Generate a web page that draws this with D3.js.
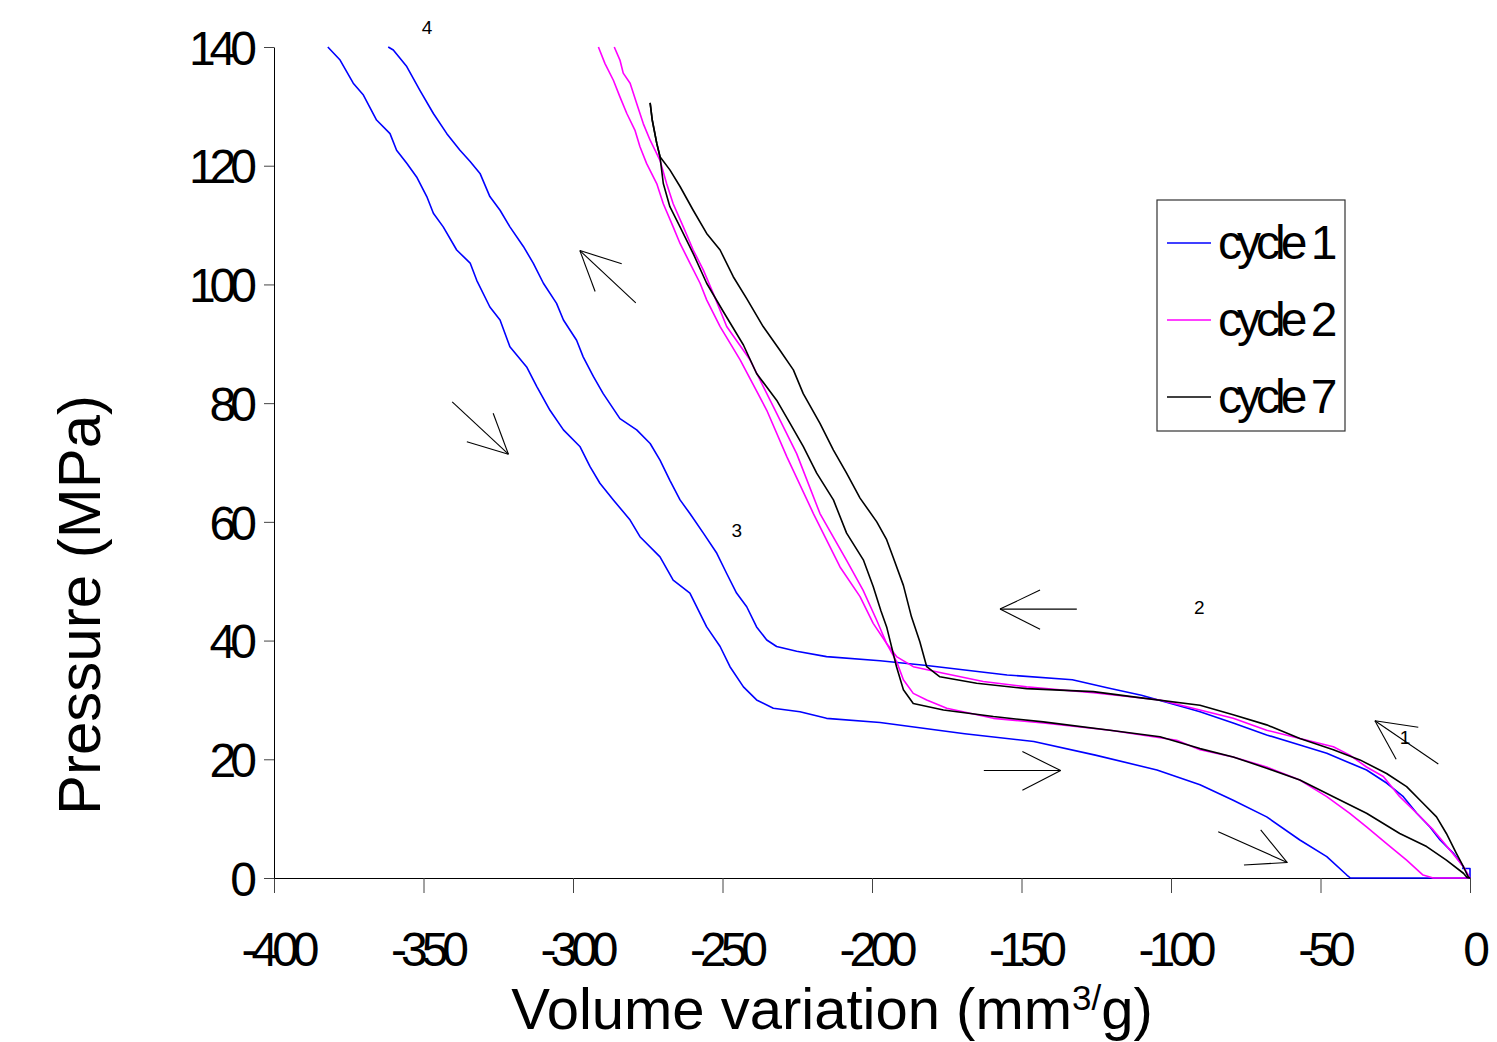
<!DOCTYPE html>
<html>
<head>
<meta charset="utf-8">
<script src="https://cdn.jsdelivr.net/npm/d3@7"></script>
<style>
  body { margin: 0; background: #fff; }
  svg { display: block; }
  .tick text { font-family: "Liberation Sans", Arial, sans-serif; font-size: 48px; letter-spacing: -6px; fill: #000; }
  .tick line { stroke: #444; }
  .domain { stroke: #000; }
</style>
</head>
<body>
<div class="chart"></div>
<script>
// cycle 1 (blue) - intrusion branch, from origin up
const cycle1Up = [[0,0],[0,1.6],[-2.4,1.6],[-2.2,1.9],[-5.6,4.2],[-10,6.4],[-13.4,8.6],[-17.8,10.9],[-22.3,13.7],[-27.9,16.0],[-34.6,18.2],[-41.2,19.6],[-47.9,21.0],[-56.9,22.4],[-68,24.1],[-79.2,26.1],[-90.3,28.0],[-94.4,28.6],[-109.9,30.8],[-121,32.0],[-133,33.4],[-154.8,34.2],[-181.7,35.8],[-197.3,36.6],[-215.2,37.3],[-225.2,38.2],[-231.9,39.0],[-235.2,40.1],[-238.6,42.3],[-241.9,45.7],[-245.3,48.0],[-248.6,51.3],[-251.9,54.7],[-256.4,58.1],[-260.9,61.4],[-264.2,63.7],[-267.6,67.0],[-270.9,70.4],[-274.2,73.2],[-278.7,75.5],[-284.3,77.4],[-289.9,81.6],[-293.2,84.5],[-296.6,87.8],[-298.8,90.6],[-303.2,94.0],[-305.5,96.8],[-309.9,100.2],[-313.3,103.6],[-316.6,106.4],[-321.1,109.7],[-324.4,112.5],[-327.8,114.8],[-331.1,118.7],[-334.4,120.7],[-337.8,122.6],[-342.2,125.4],[-346.7,128.8],[-351.2,132.7],[-355.6,136.7],[-360.1,139.5],[-361.8,140]];
// cycle 1 - extrusion branch, from top back to origin
const cycle1Down = [[-382,140],[-377.9,137.8],[-373.5,133.9],[-370.1,131.9],[-365.7,127.7],[-361.2,125.4],[-359,122.6],[-355.6,120.4],[-352.3,118.1],[-348.9,114.8],[-346.7,112],[-343.4,109.7],[-338.9,105.8],[-334.4,103.6],[-332.2,100.7],[-327.8,96.2],[-324.4,94.0],[-321.1,89.5],[-315.5,86.1],[-312.1,82.8],[-307.7,78.8],[-303.2,75.5],[-297.7,72.7],[-294.3,69.3],[-291,66.5],[-286.5,63.7],[-280.9,60.3],[-277.6,57.5],[-270.9,54.1],[-266.5,50.2],[-260.9,48.0],[-255.3,42.3],[-250.8,39.0],[-247.5,35.6],[-243.0,32.2],[-238.6,30.0],[-233,28.6],[-224.1,28.0],[-215.2,26.9],[-197.3,26.2],[-169,24.3],[-145.9,23.0],[-125.3,20.7],[-104.7,18.2],[-90.3,15.7],[-79.2,13.1],[-68,10.3],[-56.9,6.4],[-47.9,3.6],[-41.2,0.5],[-40,0],[0,0]];

// cycle 2 (magenta)
const cycle2Up = [[0,0],[-2.2,1.9],[-6.7,4.7],[-12.3,8.1],[-17.8,10.9],[-23.5,13.7],[-29,17.1],[-34.6,18.7],[-40.2,20.7],[-45.7,22.1],[-56.9,23.5],[-68,24.9],[-79.2,26.9],[-90.3,28.3],[-103.7,30],[-126,31.2],[-148.3,32.2],[-162.8,33.1],[-176.1,34.5],[-186.2,35.6],[-191.8,37.3],[-195.1,39.5],[-198.5,43.5],[-203,48.5],[-208.5,53.5],[-217.4,61.4],[-225.2,71.5],[-233,79.4],[-240.8,87.3],[-248.6,92.9],[-253.1,98.5],[-256.4,102.4],[-259.8,105.8],[-263.1,109.7],[-266.5,113.6],[-268.7,117],[-270.9,120.9],[-274.2,124.3],[-276.5,127.1],[-278.7,130.5],[-280.9,133.9],[-283.2,135.6],[-284.3,137.8],[-286.2,140]];
const cycle2Down = [[-291.5,140],[-289.3,137.2],[-286.5,134.4],[-284.3,131.6],[-282,128.8],[-279.3,126],[-277.6,123.2],[-275.4,120.4],[-272,117],[-269.8,113.6],[-266.5,109.7],[-264.2,106.9],[-260.9,103.6],[-257.5,100.2],[-255.3,97.4],[-250.8,92.9],[-244.1,87.3],[-235.2,78.8],[-228.5,71.0],[-219.6,61.4],[-210.7,52.4],[-204,47.4],[-199.6,42.9],[-195.1,39.5],[-191.8,36.5],[-189.5,33.4],[-186.2,31.1],[-181.7,30],[-175,28.6],[-159.4,26.9],[-142.7,26.1],[-120.4,24.9],[-98.1,23.2],[-90.3,21.6],[-79.2,20.4],[-68,18.7],[-56.9,16.5],[-47.9,13.7],[-40.2,10.9],[-34.6,8.6],[-27.9,5.8],[-21.2,3.0],[-15.7,0.5],[-12.3,0],[0,0]];

// cycle 7 (black)
const cycle7Up = [[0,0],[-0.6,0.2],[-2.2,1.9],[-4.6,4.2],[-7.9,7.5],[-11.2,10.3],[-15.7,12.6],[-21.2,15.4],[-27.9,17.6],[-36.8,19.9],[-45.7,21.6],[-56.9,23.5],[-68,25.8],[-79.2,27.5],[-90.3,29.1],[-109.3,30.3],[-126,31.4],[-148.3,31.9],[-165,32.8],[-177.3,33.9],[-181.7,35.6],[-184,39.8],[-186.8,44],[-189.5,49.3],[-192.9,54],[-195.1,57],[-198.4,60],[-204,64],[-208.5,68.2],[-212.9,72.1],[-217.4,76.6],[-223,81.6],[-226.3,85.6],[-230.8,88.9],[-236.4,92.9],[-241.9,97.6],[-246.4,101.3],[-250.8,105.8],[-255.3,108.6],[-259.8,112.5],[-264.2,116.5],[-267.6,119.3],[-270.9,121.5],[-272,123.8],[-273.5,127.7],[-274.2,130.6]];
const cycle7Down = [[-274.2,130.6],[-273.5,127.7],[-272,123.8],[-270.9,121.5],[-269.8,117],[-267.6,113.1],[-264.2,109.7],[-259.8,105.2],[-255.3,100.2],[-249.7,95.4],[-243,89.8],[-238.6,85],[-231.9,80.5],[-227.4,76.6],[-223,72.7],[-218.5,68.2],[-212.9,63.7],[-208.5,58.1],[-202.9,53.6],[-199.6,49.1],[-197,45],[-195.1,42.3],[-191.8,35.6],[-189.5,31.7],[-186.2,29.4],[-176.1,28.3],[-159.4,27.2],[-142.7,26.3],[-120.4,24.9],[-103.7,23.8],[-90.3,21.8],[-79.2,20.4],[-68,18.5],[-56.9,16.5],[-45.7,13.7],[-34.6,10.9],[-23.5,7.5],[-14.5,5.3],[-7.9,3.0],[-2.2,0.8],[-1,0.1],[0,0]];

const seriesNames = ['cycle 1', 'cycle 2', 'cycle 7'];
const seriesColors = ['#0000ff', '#ff00ff', '#000000'];

const xTicks = [-400, -350, -300, -250, -200, -150, -100, -50, 0];
const yTicks = [0, 20, 40, 60, 80, 100, 120, 140];

// arrows: [tail, tip, barb, barb] in data units
const arrows = [
  [[-10.6,19.2],[-31.8,26.5],[-17.3,25.4],[-24.7,20.0]],
  [[-131.5,45.3],[-157.2,45.3],[-143.8,48.5],[-143.8,41.9]],
  [[-162.6,18.1],[-136.9,18.1],[-149.7,21.3],[-149.7,14.8]],
  [[-84.2,7.8],[-61.1,2.6],[-70.0,8.1],[-75.6,2.2]],
  [[-279.0,96.9],[-297.7,105.7],[-283.7,103.5],[-292.6,98.8]],
  [[-340.4,80.2],[-321.6,71.4],[-326.7,78.3],[-335.5,73.5]]
];
const arrowLabels = [['1',-21.7,23.8],['2',-90.5,45.7],['3',-245.2,58.6],['4',-348.8,143.4]];

const width = 1497, height = 1042;

const svg = d3.select('.chart')
  .append('svg')
  .attr('width', width)
  .attr('height', height);

const x = d3.scaleLinear().domain([-400, 0]).range([274, 1470]);
const y = d3.scaleLinear().domain([0, 140]).range([878, 47]);

// axes (plain hyphen for negatives, like the original)
svg.append('g')
  .attr('transform', 'translate(0,878)')
  .call(d3.axisBottom(x).tickValues(xTicks).tickSize(15).tickPadding(39).tickSizeOuter(0).tickFormat(d => String(d)))
  .call(g => g.selectAll('.tick text').attr('dx', 3));

svg.append('g')
  .attr('transform', 'translate(274,0)')
  .call(d3.axisLeft(y).tickValues(yTicks).tickSize(10).tickPadding(13).tickSizeOuter(0))
  .call(g => g.selectAll('.tick text').attr('dy', '0.36em'));

// curves
const line = d3.line().x(d => x(d[0])).y(d => y(d[1]));
const curves = [
  [cycle1Up, cycle1Down],
  [cycle2Up, cycle2Down],
  [cycle7Up, cycle7Down]
];
curves.forEach((branches, i) => {
  branches.forEach(b => {
    svg.append('path')
      .datum(b)
      .attr('d', line)
      .attr('fill', 'none')
      .attr('stroke', seriesColors[i])
      .attr('stroke-width', 1.6)
      .attr('stroke-linejoin', 'round');
  });
});

// arrows
const arrowG = svg.append('g').attr('stroke', '#000').attr('stroke-width', 1.1);
arrows.forEach(a => {
  const [tail, tip, b1, b2] = a;
  [tail, b1, b2].forEach(p => {
    arrowG.append('line')
      .attr('x1', x(p[0])).attr('y1', y(p[1]))
      .attr('x2', x(tip[0])).attr('y2', y(tip[1]));
  });
});
svg.selectAll('.alabel')
  .data(arrowLabels)
  .enter()
  .append('text')
  .attr('class', 'alabel')
  .attr('x', d => x(d[1]))
  .attr('y', d => y(d[2]))
  .attr('dy', '0.36em')
  .attr('text-anchor', 'middle')
  .attr('font-family', '"Liberation Sans", Arial, sans-serif')
  .attr('font-size', 19)
  .text(d => d[0]);

// axis titles
svg.append('text')
  .attr('transform', 'translate(100,605) rotate(-90)')
  .attr('text-anchor', 'middle')
  .attr('font-family', '"Liberation Sans", Arial, sans-serif')
  .attr('font-size', 60)
  .text('Pressure (MPa)');

const xTitle = svg.append('text')
  .attr('x', 832)
  .attr('y', 1029)
  .attr('text-anchor', 'middle')
  .attr('font-family', '"Liberation Sans", Arial, sans-serif')
  .attr('font-size', 58);
xTitle.append('tspan').text('Volume variation (mm');
xTitle.append('tspan').attr('font-size', 35).attr('dy', -19).text('3/');
xTitle.append('tspan').attr('dy', 19).text('g)');

// legend
const legend = svg.append('g');
legend.append('rect')
  .attr('x', 1157).attr('y', 200)
  .attr('width', 188).attr('height', 231)
  .attr('fill', '#fff')
  .attr('stroke', '#333')
  .attr('stroke-width', 1.2);
seriesNames.forEach((name, i) => {
  const ly = 243 + i * 77;
  legend.append('line')
    .attr('x1', 1167).attr('x2', 1211)
    .attr('y1', ly).attr('y2', ly)
    .attr('stroke', seriesColors[i])
    .attr('stroke-width', 1.6);
  legend.append('text')
    .attr('x', 1218).attr('y', ly + 16)
    .attr('font-family', '"Liberation Sans", Arial, sans-serif')
    .attr('font-size', 48)
    .attr('letter-spacing', '-5px')
    .text(name);
});
</script>
</body>
</html>
